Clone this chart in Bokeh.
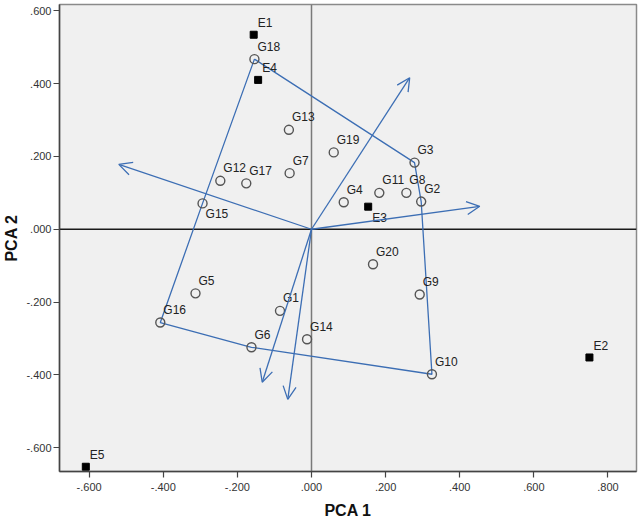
from bokeh.plotting import figure
from bokeh.models import (Range1d, Span, Arrow, OpenHead, ColumnDataSource,
                          FixedTicker, CustomJSTickFormatter)
from bokeh.embed import file_html
from bokeh.resources import INLINE
from bokeh.core.properties import value

# ---- data ----
genotypes = ["G1", "G2", "G3", "G4", "G5", "G6", "G7", "G8", "G9", "G10",
             "G11", "G12", "G13", "G14", "G15", "G16", "G17", "G18", "G19", "G20"]
gen_x = [-0.085, 0.296, 0.278, 0.087, -0.313, -0.162, -0.059, 0.256, 0.292, 0.325,
         0.183, -0.246, -0.061, -0.012, -0.294, -0.408, -0.176, -0.154, 0.060, 0.166]
gen_y = [-0.224, 0.076, 0.183, 0.074, -0.176, -0.324, 0.154, 0.100, -0.179, -0.398,
         0.100, 0.133, 0.273, -0.302, 0.071, -0.256, 0.126, 0.467, 0.211, -0.096]

environments = ["E1", "E2", "E3", "E4", "E5"]
env_x = [-0.156, 0.750, 0.153, -0.144, -0.609]
env_y = [0.534, -0.352, 0.062, 0.410, -0.652]

hull_order = ["G18", "G3", "G2", "G10", "G6", "G16", "G15", "G18"]

ray_x = [-0.520, 0.265, 0.454, -0.133, -0.064]
ray_y = [0.178, 0.416, 0.063, -0.420, -0.467]

x_ticks = [-0.6, -0.4, -0.2, 0.0, 0.2, 0.4, 0.6, 0.8]
y_ticks = [-0.6, -0.4, -0.2, 0.0, 0.2, 0.4, 0.6]

labels_below = ["G15", "E3"]

x_title = "PCA 1"
y_title = "PCA 2"

# ---- styles ----
BLUE = "#3C6EB4"
FONT = "Liberation Sans"

p = figure(width=638, height=521, output_backend="svg", toolbar_location=None,
           x_range=Range1d(-0.68, 0.877), y_range=Range1d(-0.665, 0.617),
           min_border_left=4, min_border_right=2, min_border_top=4, min_border_bottom=50)

p.background_fill_color = "#F0F0F0"
p.border_fill_color = "white"
p.outline_line_color = "#8a8a8a"
p.outline_line_width = 1.5
p.xgrid.visible = False
p.ygrid.visible = False

fmt = CustomJSTickFormatter(code="return tick.toFixed(3).replace(/^(-?)0\\./, '$1.');")
for ax, ticks, title in ((p.xaxis[0], x_ticks, x_title), (p.yaxis[0], y_ticks, y_title)):
    ax.ticker = FixedTicker(ticks=ticks)
    ax.formatter = fmt
    ax.minor_tick_line_color = None
    ax.major_tick_in = 0
    ax.major_tick_out = 6
    ax.major_tick_line_color = "#444444"
    ax.major_tick_line_width = 1.2
    ax.axis_line_color = "#444444"
    ax.axis_line_width = 1.5
    ax.major_label_text_font = FONT
    ax.major_label_text_font_size = "11px"
    ax.major_label_text_color = "#333333"
    ax.axis_label = title
    ax.axis_label_text_font = FONT
    ax.axis_label_text_font_size = "16px"
    ax.axis_label_text_font_style = "bold"
    ax.axis_label_text_color = "#111111"
p.xaxis.major_label_standoff = 5
p.yaxis.major_label_standoff = 2
p.xaxis.axis_label_standoff = 8
p.yaxis.axis_label_standoff = 3

# zero reference lines
p.add_layout(Span(location=0, dimension="height", line_color="#7a7a7a", line_width=1.5, level="underlay"))
p.add_layout(Span(location=0, dimension="width", line_color="#1a1a1a", line_width=1.3, level="underlay"))

# polygon
gx = dict(zip(genotypes, gen_x))
gy = dict(zip(genotypes, gen_y))
p.line([gx[g] for g in hull_order], [gy[g] for g in hull_order],
       line_color=BLUE, line_width=1.3)

# rays with open arrow heads
ray_src = ColumnDataSource(dict(x0=[0.0] * len(ray_x), y0=[0.0] * len(ray_y), x1=ray_x, y1=ray_y))
p.add_layout(Arrow(source=ray_src, x_start="x0", y_start="y0", x_end="x1", y_end="y1",
                   line_color=BLUE, line_width=1.3,
                   end=OpenHead(size=13, line_color=BLUE, line_width=1.3)))

# genotype points
gsrc = ColumnDataSource(dict(x=gen_x, y=gen_y, name=genotypes,
                             dy=[11 if g in labels_below else -12.5 for g in genotypes]))
p.scatter("x", "y", source=gsrc, marker="circle", size=9, fill_color=None,
          line_color="#555555", line_width=1.4)
p.text("x", "y", text="name", source=gsrc, x_offset=3, y_offset="dy",
       text_font=value(FONT), text_font_size="12px", text_color="#222222",
       text_align="left", text_baseline="middle")

# environment points
esrc = ColumnDataSource(dict(x=env_x, y=env_y, name=environments,
                             dy=[11 if e in labels_below else -11.5 for e in environments]))
p.scatter("x", "y", source=esrc, marker="square", size=7, fill_color="black",
          line_color="black")
p.text("x", "y", text="name", source=esrc, x_offset=4, y_offset="dy",
       text_font=value(FONT), text_font_size="12px", text_color="#222222",
       text_align="left", text_baseline="middle")

open("out.html", "w").write(file_html(p, INLINE))
